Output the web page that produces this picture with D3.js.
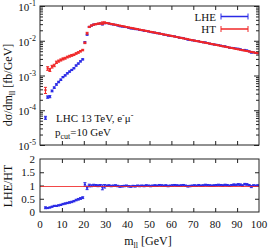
<!DOCTYPE html>
<html>
<head>
<meta charset="utf-8">
<script src="https://cdn.jsdelivr.net/npm/d3@7"></script>
<style>
  body { margin: 0; background: #fff; }
  svg { display: block; font-family: "Liberation Serif", "DejaVu Serif", serif; }
  .frame { fill: none; stroke: #222; stroke-width: 1; }
  .tick line { stroke: #222; }
  .domain { display: none; }
</style>
</head>
<body>
<svg id="chart" width="270" height="249"></svg>
<script>
// bin centres in GeV (1 GeV bins)
var masses = [2.5,3.5,4.5,5.5,6.5,7.5,8.5,9.5,10.5,11.5,12.5,13.5,14.5,15.5,16.5,17.5,18.5,19.5,
  20.5,21.5,22.5,23.5,24.5,25.5,26.5,27.5,28.5,29.5,
  30.5,31.5,32.5,33.5,34.5,35.5,36.5,37.5,38.5,39.5,40.5,41.5,42.5,43.5,44.5,45.5,46.5,47.5,48.5,49.5,
  50.5,51.5,52.5,53.5,54.5,55.5,56.5,57.5,58.5,59.5,60.5,61.5,62.5,63.5,64.5,65.5,66.5,67.5,68.5,69.5,
  70.5,71.5,72.5,73.5,74.5,75.5,76.5,77.5,78.5,79.5,80.5,81.5,82.5,83.5,84.5,85.5,86.5,87.5,88.5,89.5,
  90.5,91.5,92.5,93.5,94.5,95.5,96.5,97.5,98.5,99.5];

// HT prediction, dsigma/dm [fb/GeV]
var htValues = [3.8e-4,1.6e-3,1.45e-3,1.8e-3,1.95e-3,2.4e-3,2.6e-3,2.8e-3,3.0e-3,3.15e-3,3.4e-3,3.6e-3,3.8e-3,3.95e-3,4.3e-3,4.6e-3,5.0e-3,5.4e-3,
  8.7e-3,1.65e-2,2.5e-2,2.75e-2,2.9e-2,3.0e-2,3.1e-2,3.15e-2,3.2e-2,3.3e-2,
  3.24e-2,3.14e-2,3.05e-2,2.96e-2,2.88e-2,2.80e-2,2.72e-2,2.64e-2,2.57e-2,2.49e-2,2.42e-2,2.35e-2,2.28e-2,2.22e-2,2.16e-2,2.09e-2,2.03e-2,1.98e-2,1.92e-2,1.87e-2,
  1.81e-2,1.76e-2,1.71e-2,1.66e-2,1.61e-2,1.57e-2,1.52e-2,1.48e-2,1.44e-2,1.40e-2,1.36e-2,1.32e-2,1.28e-2,1.24e-2,1.21e-2,1.17e-2,1.14e-2,1.11e-2,1.07e-2,1.04e-2,
  1.01e-2,9.85e-3,9.57e-3,9.29e-3,9.03e-3,8.77e-3,8.52e-3,8.28e-3,8.04e-3,7.81e-3,7.59e-3,7.37e-3,7.16e-3,6.95e-3,6.76e-3,6.56e-3,6.37e-3,6.19e-3,6.01e-3,5.84e-3,
  5.67e-3,5.51e-3,5.35e-3,5.20e-3,5.05e-3,4.91e-3,4.77e-3,4.63e-3,4.50e-3,4.37e-3];

// LHE / HT ratio
var ratioValues = [0.16,0.15,0.17,0.20,0.23,0.23,0.25,0.27,0.30,0.32,0.34,0.36,0.38,0.41,0.45,0.48,0.51,0.54,
  1.04,0.91,1.00,0.99,1.01,1.00,0.99,1.00,0.93,0.97,
  0.99,1.00,0.98,0.99,1.00,0.98,0.96,0.97,0.98,0.99,0.97,0.96,0.98,0.97,0.99,0.98,0.99,0.98,1.00,0.99,
  0.98,0.99,1.00,0.99,1.01,1.00,0.99,1.00,0.98,0.99,1.00,1.01,1.00,0.99,1.00,1.01,0.99,0.97,0.98,0.99,
  1.00,0.99,1.01,0.99,1.00,1.02,1.01,1.00,0.99,1.00,1.01,1.02,1.01,1.00,1.02,1.01,0.99,1.01,1.03,1.02,
  1.04,1.03,1.00,1.05,1.04,1.01,0.96,1.00,0.99,1.00];

// relative statistical errors
var htRelErr = [0.20,0.12,0.10,0.09,0.08,0.08,0.07,0.07,0.07,0.06,0.06,0.06,0.06,0.05,0.05,0.05,0.05,0.05,
  0.05,0.06,0.04,0.03,0.03,0.03,0.03,0.03,0.09,0.06,
  0.02,0.02,0.02,0.02,0.02,0.02,0.02,0.02,0.02,0.02,0.02,0.02,0.02,0.02,0.02,0.02,0.02,0.02,0.02,0.02,
  0.02,0.02,0.02,0.02,0.02,0.02,0.02,0.02,0.02,0.02,0.02,0.02,0.02,0.02,0.02,0.02,0.02,0.02,0.02,0.02,
  0.02,0.02,0.02,0.02,0.02,0.02,0.02,0.02,0.02,0.02,0.02,0.02,0.02,0.02,0.02,0.02,0.02,0.02,0.02,0.02,
  0.02,0.02,0.02,0.02,0.02,0.02,0.03,0.02,0.02,0.02];
var lheRelErr = [0.10,0.08,0.07,0.06,0.05,0.05,0.05,0.05,0.04,0.04,0.04,0.04,0.04,0.04,0.04,0.04,0.04,0.04,
  0.04,0.04,0.03,0.02,0.02,0.02,0.02,0.02,0.04,0.03,
  0.02,0.02,0.02,0.02,0.02,0.02,0.02,0.02,0.02,0.02,0.02,0.02,0.02,0.02,0.02,0.02,0.02,0.02,0.02,0.02,
  0.02,0.02,0.02,0.02,0.02,0.02,0.02,0.02,0.02,0.02,0.02,0.02,0.02,0.02,0.02,0.02,0.02,0.02,0.02,0.02,
  0.02,0.02,0.02,0.02,0.02,0.02,0.02,0.02,0.02,0.02,0.02,0.02,0.02,0.02,0.02,0.02,0.02,0.02,0.02,0.02,
  0.02,0.02,0.02,0.02,0.02,0.02,0.03,0.02,0.02,0.02];

var xTicks = [0,10,20,30,40,50,60,70,80,90,100];
var yPowers = [-5,-4,-3,-2,-1];
var ratioTicks = [0,0.5,1,1.5,2];

var binWidth = 1;
var blue = "#2a2ae6", red = "#f02828";

var svg = d3.select("#chart");

// panel geometry
var left = 40, right = 259;
var topY0 = 6, topY1 = 145;
var botY0 = 159, botY1 = 212;

var x = d3.scaleLinear().domain([0,100]).range([left,right]);
var y = d3.scaleLog().domain([1e-5,1e-1]).range([topY1,topY0]);
var yr = d3.scaleLinear().domain([0,2]).range([botY1,botY0]);

var bins = masses.map(function(m,i){
   var ht = htValues[i];
   var r = ratioValues[i];
   var lhe = ht*r;
   return {m: m, ht: ht, htErr: ht*htRelErr[i], lhe: lhe, lheErr: lhe*lheRelErr[i],
           r: r, rErr: r*Math.sqrt(htRelErr[i]*htRelErr[i] + lheRelErr[i]*lheRelErr[i])};
});

svg.append("clipPath").attr("id","clipTop").append("rect")
   .attr("x",left).attr("y",topY0).attr("width",right-left).attr("height",topY1-topY0);
svg.append("clipPath").attr("id","clipBot").append("rect")
   .attr("x",left).attr("y",botY0).attr("width",right-left).attr("height",botY1-botY0);

// inward ticks helper
function ticksX(yPos, dir){
   var ax = dir > 0 ? d3.axisBottom(x) : d3.axisTop(x);
   svg.append("g").attr("transform","translate(0,"+yPos+")")
      .call(ax.tickValues(xTicks.slice(1,-1)).tickSize(-4).tickFormat(""));
}
ticksX(topY1, 1); ticksX(topY0, -1);
ticksX(botY1, 1); ticksX(botY0, -1);

// log y ticks, major + minor, both sides
var minor = y.ticks().filter(function(v){ return Math.abs(Math.log10(v) - Math.round(Math.log10(v))) > 1e-6; });
var major = yPowers.map(function(p){ return Math.pow(10,p); });
[[left,d3.axisLeft],[right,d3.axisRight]].forEach(function(s){
   svg.append("g").attr("transform","translate("+s[0]+",0)")
      .call(s[1](y).tickValues(minor).tickSize(-3).tickFormat(""));
   svg.append("g").attr("transform","translate("+s[0]+",0)")
      .call(s[1](y).tickValues(major).tickSize(-5).tickFormat(""));
   svg.append("g").attr("transform","translate("+s[0]+",0)")
      .call(s[1](yr).tickValues([0.5,1,1.5]).tickSize(-4).tickFormat(""));
});

// y tick labels, top panel (10^n)
var yl = svg.append("g").attr("font-size",11).attr("fill","#111");
yPowers.forEach(function(p){
   var t = yl.append("text").attr("text-anchor","end").attr("x",36).attr("y",y(Math.pow(10,p))+5);
   t.append("tspan").text("10");
   t.append("tspan").attr("dy",-5).attr("font-size",8).text("" + p);
});

// ratio tick labels
svg.append("g").attr("font-size",11).attr("fill","#111").selectAll("text")
   .data(ratioTicks).enter().append("text")
   .attr("text-anchor","end").attr("x",35)
   .attr("y",function(d){ return yr(d)+4; })
   .text(function(d){ return d; });

// x tick labels
svg.append("g").attr("font-size",11).attr("fill","#111").selectAll("text")
   .data(xTicks).enter().append("text")
   .attr("text-anchor","middle")
   .attr("x",function(d){ return x(d); })
   .attr("y",228)
   .text(function(d){ return d; });

// data marks: horizontal bin bar + vertical error bar with caps
function drawSeries(g, key, errKey, yScale, color, w){
   var sel = g.selectAll("g.pt-"+key).data(bins).enter().append("g");
   sel.append("line")
      .attr("x1",function(d){ return x(d.m - binWidth/2); })
      .attr("x2",function(d){ return x(d.m + binWidth/2); })
      .attr("y1",function(d){ return yScale(d[key]); })
      .attr("y2",function(d){ return yScale(d[key]); })
      .attr("stroke",color).attr("stroke-width",w);
   sel.append("line")
      .attr("x1",function(d){ return x(d.m); })
      .attr("x2",function(d){ return x(d.m); })
      .attr("y1",function(d){ return yScale(d[key]-d[errKey]); })
      .attr("y2",function(d){ return yScale(d[key]+d[errKey]); })
      .attr("stroke",color).attr("stroke-width",1);
   [-1,1].forEach(function(s){
      sel.append("line")
         .attr("x1",function(d){ return x(d.m)-1.5; })
         .attr("x2",function(d){ return x(d.m)+1.5; })
         .attr("y1",function(d){ return yScale(d[key]+s*d[errKey]); })
         .attr("y2",function(d){ return yScale(d[key]+s*d[errKey]); })
         .attr("stroke",color).attr("stroke-width",1);
   });
}

var gTop = svg.append("g").attr("clip-path","url(#clipTop)");
drawSeries(gTop, "lhe", "lheErr", y, blue, 2);
drawSeries(gTop, "ht", "htErr", y, red, 2);

var gBot = svg.append("g").attr("clip-path","url(#clipBot)");
drawSeries(gBot, "r", "rErr", yr, blue, 1.6);
gBot.append("line").attr("x1",x(0)).attr("x2",x(100))
   .attr("y1",Math.round(yr(1))+0.5).attr("y2",Math.round(yr(1))+0.5)
   .attr("stroke",red).attr("stroke-width",1).attr("stroke-opacity",0.85);

// frames
svg.append("rect").attr("class","frame").attr("x",left).attr("y",topY0)
   .attr("width",right-left).attr("height",topY1-topY0);
svg.append("rect").attr("class","frame").attr("x",left).attr("y",botY0)
   .attr("width",right-left).attr("height",botY1-botY0);

// legend
var legend = [{label:"LHE", color:blue, y:16.5}, {label:"HT", color:red, y:29}];
legend.forEach(function(l){
   svg.append("text").attr("x",216).attr("y",l.y+4).attr("text-anchor","end")
      .attr("font-size",11).attr("fill","#111").text(l.label);
   svg.append("line").attr("x1",221).attr("x2",248).attr("y1",l.y).attr("y2",l.y)
      .attr("stroke",l.color).attr("stroke-width",1.5);
   [221,248].forEach(function(xx){
      svg.append("line").attr("x1",xx).attr("x2",xx).attr("y1",l.y-3).attr("y2",l.y+3)
         .attr("stroke",l.color).attr("stroke-width",1);
   });
});

// annotation
var ann = svg.append("text").attr("x",56).attr("y",122).attr("font-size",11).attr("fill","#111");
ann.append("tspan").text("LHC 13 TeV, e");
ann.append("tspan").attr("dy",-4).attr("font-size",8).text("-");
ann.append("tspan").attr("dy",4).text("\u03bc");
ann.append("tspan").attr("dy",-4).attr("font-size",8).text("-");
var pc = svg.append("text").attr("x",55).attr("y",136).attr("font-size",11).attr("fill","#111");
pc.append("tspan").text("p");
pc.append("tspan").attr("dy",3).attr("font-size",8).text("cut");
pc.append("tspan").attr("dy",-3).text("=10 GeV");

// axis titles
var yt = svg.append("text").attr("transform","translate(12,85) rotate(-90)")
   .attr("text-anchor","middle").attr("font-size",12).attr("fill","#111");
yt.append("tspan").text("d\u03c3/dm");
yt.append("tspan").attr("dy",3).attr("font-size",8).text("ll");
yt.append("tspan").attr("dy",-3).text(" [fb/GeV]");

svg.append("text").attr("transform","translate(12,186) rotate(-90)")
   .attr("text-anchor","middle").attr("font-size",12).attr("fill","#111").text("LHE/HT");

var xt = svg.append("text").attr("x",148).attr("y",245)
   .attr("text-anchor","middle").attr("font-size",12).attr("fill","#111");
xt.append("tspan").text("m");
xt.append("tspan").attr("dy",3).attr("font-size",8).text("ll");
xt.append("tspan").attr("dy",-3).text(" [GeV]");
</script>
</body>
</html>
